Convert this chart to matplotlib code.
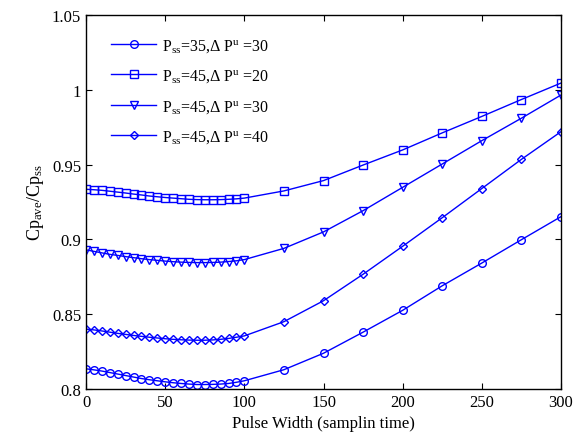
import matplotlib
matplotlib.use("Agg")
import matplotlib.pyplot as plt

plt.rcParams['font.family'] = ['Liberation Serif', 'DejaVu Serif']
plt.rcParams['mathtext.fontset'] = 'custom'
plt.rcParams['mathtext.rm'] = 'Liberation Serif'
plt.rcParams['mathtext.it'] = 'Liberation Serif:italic'

# pulse width samples: fine steps up to 100, then every 25
pulse_width = list(range(0, 101, 5)) + [125, 150, 175, 200, 225, 250, 275, 300]

ratio_35_30 = [0.8135, 0.8128, 0.8120, 0.8110, 0.8100, 0.8090, 0.8080, 0.8070, 0.8062, 0.8055,
               0.8048, 0.8042, 0.8037, 0.8033, 0.8030, 0.8030, 0.8031, 0.8033, 0.8037, 0.8045,
               0.8055, 0.8129, 0.8239, 0.8380, 0.8526, 0.8690, 0.8842, 0.8998, 0.9152]
ratio_45_20 = [0.9335, 0.9332, 0.9328, 0.9322, 0.9316, 0.9310, 0.9303, 0.9297, 0.9290, 0.9285,
               0.9280, 0.9276, 0.9272, 0.9268, 0.9266, 0.9265, 0.9265, 0.9266, 0.9268, 0.9271,
               0.9276, 0.9324, 0.9393, 0.9497, 0.9598, 0.9712, 0.9822, 0.9935, 1.0045]
ratio_45_30 = [0.8930, 0.8920, 0.8910, 0.8900, 0.8893, 0.8885, 0.8878, 0.8871, 0.8865, 0.8860,
               0.8855, 0.8851, 0.8848, 0.8846, 0.8845, 0.8845, 0.8846, 0.8848, 0.8852, 0.8857,
               0.8865, 0.8940, 0.9050, 0.9192, 0.9348, 0.9504, 0.9660, 0.9810, 0.9965]
ratio_45_40 = [0.8400, 0.8395, 0.8388, 0.8380, 0.8372, 0.8365, 0.8358, 0.8352, 0.8346, 0.8341,
               0.8336, 0.8332, 0.8329, 0.8327, 0.8326, 0.8326, 0.8328, 0.8332, 0.8338, 0.8346,
               0.8355, 0.8450, 0.8590, 0.8767, 0.8954, 0.9145, 0.9340, 0.9535, 0.9720]

labels = [r'P$_{\rm ss}$=35,$\Delta$ P$^{\rm u}$ =30',
          r'P$_{\rm ss}$=45,$\Delta$ P$^{\rm u}$ =20',
          r'P$_{\rm ss}$=45,$\Delta$ P$^{\rm u}$ =30',
          r'P$_{\rm ss}$=45,$\Delta$ P$^{\rm u}$ =40']
markers = ['o', 's', 'v', 'D']

fig = plt.figure(figsize=(5.82, 4.39), dpi=100)
ax = fig.add_axes([0.1478, 0.1116, 0.8161, 0.852])

for y, m, lab in zip([ratio_35_30, ratio_45_20, ratio_45_30, ratio_45_40], markers, labels):
    ms = 4.5 if m == 'D' else 5.5
    ax.plot(pulse_width, y, color='blue', marker=m, markersize=ms, mfc='none',
            mec='blue', linewidth=1.0, markeredgewidth=1.0, label=lab)

ax.set_xlim(0, 300)
ax.set_ylim(0.8, 1.05)
ax.set_xticks([0, 50, 100, 150, 200, 250, 300])
ax.set_yticks([0.8, 0.85, 0.9, 0.95, 1.0, 1.05])
ax.set_yticklabels(['0.8', '0.85', '0.9', '0.95', '1', '1.05'])
ax.tick_params(direction='in', top=True, right=True, labelsize=12, length=4)
for s in ax.spines.values():
    s.set_linewidth(1.0)

ax.set_xlabel('Pulse Width (samplin time)', fontsize=12)
ax.set_ylabel(r'Cp$_{\rm ave}$/Cp$_{\rm ss}$', fontsize=13)

ax.legend(loc='upper left', bbox_to_anchor=(0.02, 0.985), frameon=False, fontsize=11.5,
          handlelength=2.8, labelspacing=0.85, borderaxespad=0.6, handletextpad=0.35)

fig.savefig('out.png', dpi=100)
